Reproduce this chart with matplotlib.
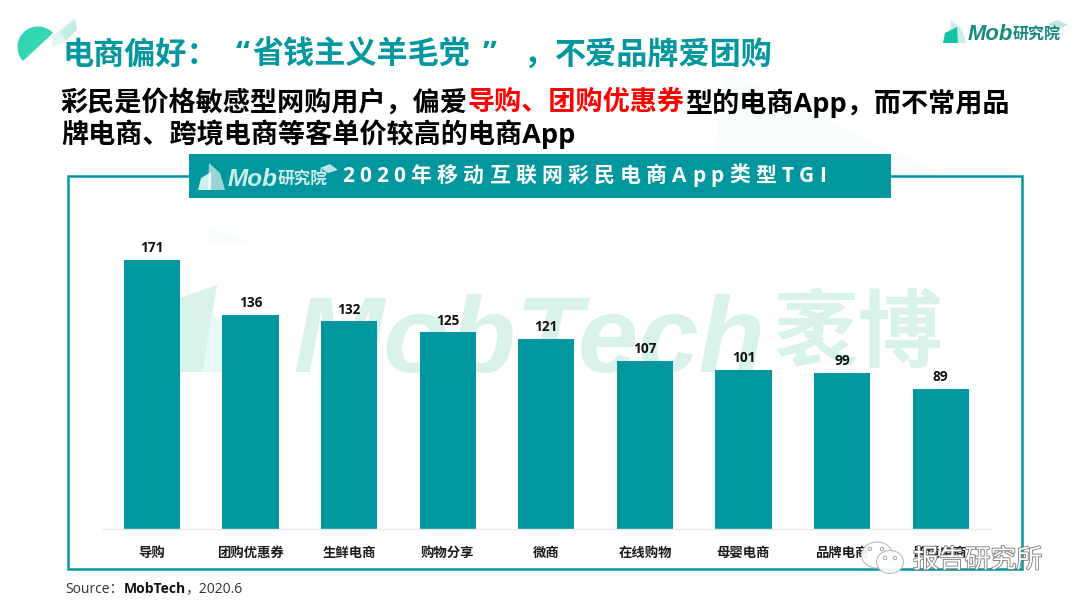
import numpy as np
import matplotlib
matplotlib.use("Agg")
import matplotlib.pyplot as plt
from matplotlib.patches import Polygon, Rectangle, Ellipse
import matplotlib.patheffects as pe

plt.rcParams['font.family'] = ['Open Sans', 'Noto Sans CJK SC', 'DejaVu Sans']

categories = ['导购', '团购优惠券', '生鲜电商', '购物分享', '微商', '在线购物', '母婴电商', '品牌电商', '跨境电商']
tgi_values = [171, 136, 132, 125, 121, 107, 101, 99, 89]
title_parts = [('电商偏好：', 62), ('“', 236), ('省钱主义羊毛党', 252), ('”', 483), ('，', 524), ('不爱品牌爱团购', 555)]
sub_line1 = [('彩民是价格敏感型网购用户，偏爱', '#000000'), ('导购、团购优惠券', '#ff0000'), ('型的电商App，而不常用品', '#000000')]
sub_line2 = [('牌电商、跨境电商等客单价较高的电商App', '#000000')]
banner_text = '2020年移动互联网彩民电商App类型TGI'

TEAL = '#02979f'
W, H = 1080, 608
fig = plt.figure(figsize=(W / 100, H / 100), dpi=100, facecolor='white')

bg = fig.add_axes([0, 0, 1, 1], zorder=0)
bg.set_xlim(0, W); bg.set_ylim(H, 0); bg.axis('off')
top = fig.add_axes([0, 0, 1, 1], zorder=5)
top.set_xlim(0, W); top.set_ylim(H, 0); top.axis('off'); top.patch.set_alpha(0)

# faint background facet
bg.add_patch(Polygon([(725, 72), (945, 176), (712, 176)], fc='#f8fdfc', ec='none'))

# frame
bg.add_patch(Rectangle((68, 176), 954, 393, fc='white', ec=TEAL, lw=1.8))

# watermark
wm = '#d8f1ea'
bg.add_patch(Polygon([(209, 227), (247, 243), (207, 243)], fc='#f5fcfb', ec='none'))
bg.add_patch(Polygon([(180, 298), (217, 285), (203, 372), (180, 372)], fc=wm, ec='none'))
bg.add_patch(Polygon([(203, 372), (211, 315), (260, 345), (260, 372)], fc='#e6f9f3', ec='none'))
bg.text(293, 372, 'MobTech', fontsize=78, color=wm, fontstyle='italic', fontweight='bold',
        family='Liberation Sans', va='baseline', ha='left')
bg.text(859, 335, '袤博', fontsize=61, color=wm, fontweight='bold', va='center', ha='center',
        family='Noto Sans CJK SC')

# chart axes, pixel box x 103..990, y 210..529
ax = fig.add_axes([103 / W, 1 - 529 / H, 887 / W, 319 / H], zorder=2)
ax.patch.set_alpha(0)
x = np.arange(len(categories))
bars = ax.bar(x, tgi_values, width=0.57, color=TEAL, edgecolor='none')
ax.set_xlim(-0.497, 8.5)
ax.set_ylim(0, 202.8)
ax.set_yticks([])
ax.set_xticks(x)
ax.set_xticklabels(categories, fontsize=9.6, fontweight='bold', color='#1a1a1a')
ax.tick_params(axis='x', length=0, pad=13)
for s in ['top', 'left', 'right']:
    ax.spines[s].set_visible(False)
ax.spines['bottom'].set_color('#e8e8e8')
ax.spines['bottom'].set_linewidth(1)
ax.bar_label(bars, labels=[str(v) for v in tgi_values], padding=3.5, fontsize=9.8,
             fontweight='bold', color='#111111')

fig.canvas.draw()
rend = fig.canvas.get_renderer()


def run(a, xpos, y, segs, size, weight='bold'):
    for s, c in segs:
        t = a.text(xpos, y, s, fontsize=size, color=c, fontweight=weight, va='center', ha='left')
        xpos += t.get_window_extent(rend).width
    return xpos


def tracked(a, xpos, y, s, size, color, gap):
    for ch in s:
        t = a.text(xpos, y, ch, fontsize=size, color=color, fontweight='bold', va='center', ha='left')
        xpos += t.get_window_extent(rend).width + gap
    return xpos


def logo_text(a, xm, xc, y, size_m, size_c, color):
    a.text(xm, y, 'Mob', fontsize=size_m, color=color, fontstyle='italic', fontweight='bold',
           family='Liberation Sans', va='center', ha='left')
    a.text(xc, y, '研究院', fontsize=size_c, color=color, fontweight='bold', family='Noto Sans CJK SC',
           va='center', ha='left')


# corner leaf
th = np.linspace(0, np.pi, 60) + np.arctan2(-28, 30) + np.pi
bg.add_patch(Polygon(np.c_[38 + 20.5 * np.cos(th), 47 + 20.5 * np.sin(th)], fc='#33d5b2', ec='none'))
bg.add_patch(Polygon([(52, 36), (75, 18), (77, 30), (64, 43), (52, 47)], fc='#c9f0e8', ec='none', alpha=0.55))
bg.add_patch(Polygon([(60, 32), (75, 19), (77, 30), (66, 40)], fc='#b2e8de', ec='none', alpha=0.7))

# titles
for part, px in title_parts:
    top.text(px, 54.5, part, fontsize=22.4, color=TEAL, fontweight='bold', va='center', ha='left',
             family=['Noto Sans CJK SC'] if part != '“' and part != '”' else ['Open Sans', 'Noto Sans CJK SC'])
run(top, 61, 103, sub_line1, 19.5)
run(top, 61, 134, sub_line2, 19.5)

# banner
top.add_patch(Rectangle((189, 154), 702, 44, fc=TEAL, ec='none'))
top.add_patch(Polygon([(198, 190), (201, 178), (211, 172), (211, 190)], fc='#cfeeee', ec='none'))
top.add_patch(Polygon([(208, 190), (209, 163), (220, 173), (225, 190)], fc='#ffffff', ec='none', alpha=0.6))
top.add_patch(Polygon([(320, 168), (330, 164), (338, 170), (328, 173)], fc='#bfe6e6', ec='none'))
logo_text(top, 228, 278, 180, 17.5, 12, '#cdeced')
tracked(top, 342, 176.5, banner_text, 15, 'white', 5.3)

# top-right logo
top.add_patch(Polygon([(949, 43), (951, 20), (962, 29), (966, 43)], fc='#bfe9e0', ec='none', alpha=0.8))
top.add_patch(Polygon([(943, 43), (945, 33), (957, 27), (958, 43)], fc='#14c3a2', ec='none'))
top.add_patch(Polygon([(1048, 24), (1058, 20), (1068, 25), (1058, 29)], fc='#bfe6e0', ec='none'))
logo_text(top, 968, 1013, 35, 15.8, 11.5, '#17897f')

# source
src_x = run(top, 65, 589, [('Source：', '#333333')], 10, weight='normal')
src_x = run(top, src_x, 589, [('MobTech', '#111111')], 10)
run(top, src_x, 589, [('，2020.6', '#333333')], 10, weight='normal')

# WeChat mark
for (cx, cy, w_, h_) in [(877, 555, 31, 26), (890, 562, 27, 23)]:
    top.add_patch(Ellipse((cx, cy), w_, h_, fc='white', ec='#b5b5b5', lw=0.8, alpha=0.92))
for (cx, cy) in [(870, 549), (882, 549), (885, 558), (895, 558)]:
    top.add_patch(Ellipse((cx, cy), 3.5, 3.5, fc='white', ec='#999999', lw=0.6))
top.text(913, 560, '报告研究所', fontsize=18.6, color='white', va='center', ha='left',
         family='Noto Sans CJK SC',
         path_effects=[pe.withStroke(linewidth=1.2, foreground='#777777')])

fig.savefig('out.png', dpi=100)
